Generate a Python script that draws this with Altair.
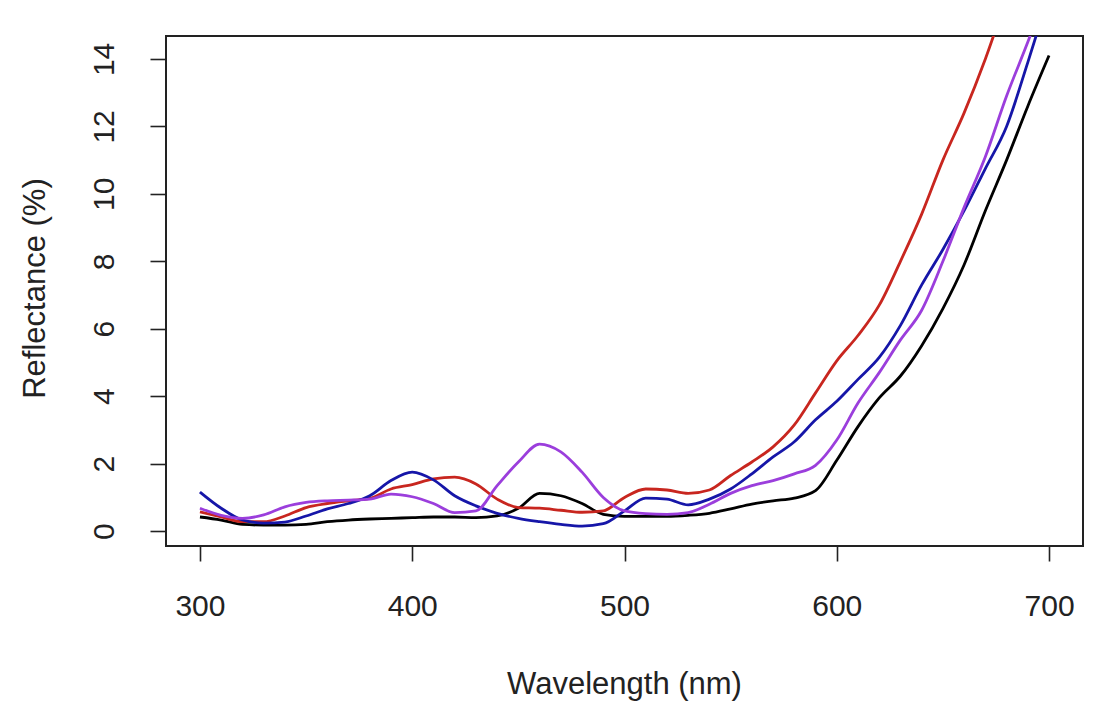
import altair as alt
import pandas as pd

wavelength = list(range(300, 701, 10))

black = [0.42, 0.33, 0.20, 0.18, 0.18, 0.20, 0.28, 0.33, 0.36, 0.38,
         0.40, 0.42, 0.42, 0.40, 0.45, 0.68, 1.12, 1.05, 0.82, 0.50,
         0.44, 0.44, 0.44, 0.47, 0.53, 0.66, 0.80, 0.90, 0.98, 1.20,
         2.10, 3.10, 3.95, 4.60, 5.50, 6.60, 7.90, 9.50, 11.0, 12.6, 14.1]

red = [0.57, 0.42, 0.28, 0.28, 0.45, 0.70, 0.82, 0.90, 0.97, 1.25,
       1.38, 1.55, 1.60, 1.40, 0.95, 0.70, 0.68, 0.62, 0.56, 0.60,
       1.00, 1.25, 1.22, 1.12, 1.22, 1.65, 2.05, 2.50, 3.15, 4.10,
       5.05, 5.80, 6.70, 8.00, 9.40, 11.0, 12.4, 14.0, 15.8, 17.5, 19.2]

blue = [1.16, 0.68, 0.33, 0.24, 0.27, 0.45, 0.66, 0.82, 1.05, 1.50,
        1.75, 1.52, 1.05, 0.75, 0.53, 0.38, 0.28, 0.20, 0.15, 0.22,
        0.60, 0.98, 0.95, 0.78, 0.95, 1.25, 1.70, 2.20, 2.65, 3.30,
        3.85, 4.50, 5.15, 6.10, 7.30, 8.35, 9.50, 10.75, 12.0, 13.9, 15.9]

purple = [0.68, 0.47, 0.38, 0.48, 0.72, 0.85, 0.90, 0.92, 0.95, 1.10,
          1.02, 0.82, 0.55, 0.60, 1.35, 2.05, 2.58, 2.35, 1.75, 1.00,
          0.60, 0.52, 0.50, 0.55, 0.80, 1.12, 1.35, 1.50, 1.70, 1.95,
          2.70, 3.80, 4.70, 5.67, 6.55, 8.00, 9.60, 11.1, 12.9, 14.5, 16.2]

series_names = ["black", "red", "blue", "purple"]
series_colors = ["#000000", "#C8261F", "#1616A8", "#9B3EDC"]
series_values = [black, red, blue, purple]

x_ticks = [300, 400, 500, 600, 700]
y_ticks = [0, 2, 4, 6, 8, 10, 12, 14]

rows = []
for name, vals in zip(series_names, series_values):
    for w, v in zip(wavelength, vals):
        rows.append({"wavelength": w, "reflectance": v, "series": name})
df = pd.DataFrame(rows)

FONT = "Liberation Sans"

chart = alt.Chart(df).mark_line(strokeWidth=2.8, clip=True, interpolate="monotone").encode(
    x=alt.X("wavelength:Q",
            scale=alt.Scale(domain=[284, 716], nice=False, zero=False),
            axis=alt.Axis(values=x_ticks, title="Wavelength (nm)", grid=False,
                          domain=False, tickSize=15, tickColor="#222222",
                          tickWidth=1.6, labelPadding=30, labelFontSize=30,
                          labelFont=FONT, labelColor="#222222",
                          titleFont=FONT, titleFontSize=31, titleFontWeight="normal",
                          titleColor="#222222", titleX=458, titleY=138,
                          titleBaseline="middle", titleAlign="center")),
    y=alt.Y("reflectance:Q",
            scale=alt.Scale(domain=[-0.44, 14.68], nice=False, zero=False),
            axis=alt.Axis(values=y_ticks, title="Reflectance (%)", grid=False,
                          domain=False, tickSize=16, tickColor="#222222",
                          tickWidth=1.6, labelAngle=270, labelAlign="center",
                          labelBaseline="alphabetic", labelPadding=37,
                          labelFontSize=30, labelFont=FONT, labelColor="#222222",
                          titleFont=FONT, titleFontSize=31, titleFontWeight="normal",
                          titleColor="#222222", titleAngle=270, titleX=-131,
                          titleY=252, titleBaseline="middle", titleAlign="center")),
    color=alt.Color("series:N",
                    scale=alt.Scale(domain=series_names, range=series_colors),
                    legend=None),
    order=alt.Order("wavelength:Q"),
).properties(
    width=917,
    height=510,
    autosize=alt.AutoSizeParams(type="none"),
    padding={"left": 158, "top": 28, "right": 10, "bottom": 165},
    background="white",
).configure_view(
    stroke="#222222",
    strokeWidth=2,
    fill="white",
)

chart.save("out.html", embed_options={"renderer": "svg", "actions": False})
